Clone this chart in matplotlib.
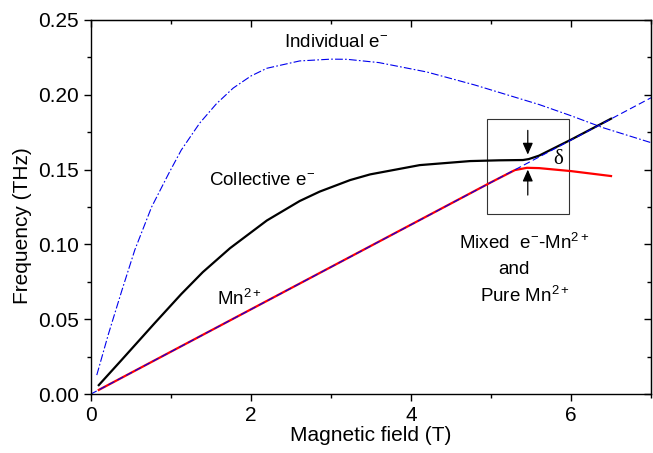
import numpy as np
import matplotlib
matplotlib.use("Agg")
import matplotlib.pyplot as plt
from matplotlib.patches import Rectangle
from matplotlib.ticker import MultipleLocator

plt.rcParams['font.family'] = ['Liberation Sans', 'DejaVu Sans']
plt.rcParams['mathtext.fontset'] = 'custom'
plt.rcParams['mathtext.rm'] = 'Liberation Sans'
plt.rcParams['mathtext.it'] = 'Liberation Sans:italic'
plt.rcParams['mathtext.default'] = 'regular'

# individual electron mode (blue dash-dot)
b_indiv = [0.075, 0.22, 0.39, 0.55, 0.76, 0.97, 1.13, 1.36, 1.57, 1.78, 2.0, 2.2,
           2.61, 3.0, 3.2, 3.6, 4.2, 4.8, 5.2, 5.6, 6.0, 6.4, 7.0]
f_indiv = [0.0127, 0.040, 0.0695, 0.0963, 0.125, 0.147, 0.163, 0.181, 0.194, 0.2045,
           0.2125, 0.2177, 0.2226, 0.2238, 0.2237, 0.2215, 0.2152, 0.2065, 0.200,
           0.1935, 0.186, 0.178, 0.168]

# collective electron mode (black)
b_coll = [0.10, 0.38, 0.80, 1.13, 1.40, 1.74, 2.2, 2.61, 2.86, 3.24, 3.49, 4.11,
          4.74, 5.1, 5.40, 5.47, 5.6, 6.0, 6.5]
f_coll = [0.006, 0.0225, 0.0475, 0.0668, 0.0815, 0.0975, 0.1160, 0.1290, 0.1353,
          0.1430, 0.1468, 0.1530, 0.1557, 0.1562, 0.1564, 0.1570, 0.1593, 0.170, 0.184]

# Mn2+ mode (red)
b_mn = [0.1, 1.0, 2.0, 3.0, 4.0, 5.0, 5.3, 5.45, 5.6, 6.0, 6.5]
f_mn = [0.0028, 0.0283, 0.0566, 0.0849, 0.1132, 0.1415, 0.1497, 0.1512, 0.1510, 0.1490, 0.1457]

# pure Mn2+ line (blue dashed)
b_pure = [0.0, 7.0]
f_pure = [0.0, 0.198]

fig = plt.figure(figsize=(6.53, 4.53), dpi=100)
ax = fig.add_axes([0.139, 0.130, 0.858, 0.826])

ax.plot(b_indiv, f_indiv, color='#0000ee', lw=0.8, dashes=(7, 2, 1.5, 2))
ax.plot(b_coll, f_coll, color='black', lw=1.6)
ax.plot(b_mn, f_mn, color='#ff0000', lw=1.6)
ax.plot(b_pure, f_pure, color='#0000ee', lw=0.8, dashes=(6, 3))

# zoom box and splitting arrows
ax.add_patch(Rectangle((4.95, 0.1201), 1.02, 0.0634, fill=False, lw=0.8, ec='#333333'))
arrow = dict(arrowstyle='-|>,head_length=0.5,head_width=0.22', color='black',
             lw=0.9, mutation_scale=14, shrinkA=0, shrinkB=0)
ax.annotate('', xy=(5.46, 0.1600), xytext=(5.46, 0.1762), arrowprops=arrow)
ax.annotate('', xy=(5.46, 0.1500), xytext=(5.46, 0.1330), arrowprops=arrow)
ax.text(5.84, 0.1565, r'δ', family='Liberation Serif', fontsize=15, ha='center', va='center')

fs = 13.5
ax.text(3.06, 0.2346, r'Individual e$^{-}$', fontsize=fs, ha='center', va='center')
ax.text(2.14, 0.1424, r'Collective e$^{-}$', fontsize=fs, ha='center', va='center')
ax.text(1.86, 0.0635, r'Mn$^{2+}$', fontsize=fs, ha='center', va='center')
ax.text(5.41, 0.1010, r'Mixed  e$^{-}$-Mn$^{2+}$', fontsize=fs, ha='center', va='center')
ax.text(5.29, 0.0830, 'and', fontsize=fs, ha='center', va='center')
ax.text(5.42, 0.0655, r'Pure Mn$^{2+}$', fontsize=fs, ha='center', va='center')

ax.set_xlim(0, 7)
ax.set_ylim(0, 0.25)
ax.xaxis.set_major_locator(MultipleLocator(2))
ax.xaxis.set_minor_locator(MultipleLocator(1))
ax.yaxis.set_major_locator(MultipleLocator(0.05))
ax.yaxis.set_minor_locator(MultipleLocator(0.025))
ax.yaxis.set_major_formatter(plt.FormatStrFormatter('%.2f'))
ax.tick_params(which='both', direction='out', labelsize=15, width=1.0)
ax.tick_params(which='major', length=5)
ax.tick_params(which='minor', length=3)
for s in ax.spines.values():
    s.set_linewidth(1.0)

# mirrored ticks pointing inward on top and right
top = ax.secondary_xaxis('top')
top.xaxis.set_major_locator(MultipleLocator(2))
top.xaxis.set_minor_locator(MultipleLocator(1))
top.tick_params(which='both', direction='in', labeltop=False, width=1.0)
top.tick_params(which='major', length=5)
top.tick_params(which='minor', length=3)
right = ax.secondary_yaxis('right')
right.yaxis.set_major_locator(MultipleLocator(0.05))
right.yaxis.set_minor_locator(MultipleLocator(0.025))
right.tick_params(which='both', direction='in', labelright=False, width=1.0)
right.tick_params(which='major', length=5)
right.tick_params(which='minor', length=3)

ax.set_xlabel('Magnetic field (T)', fontsize=15, labelpad=1)
ax.set_ylabel('Frequency (THz)', fontsize=15)
ax.yaxis.set_label_coords(-0.104, 0.45)

fig.savefig('out.png', dpi=100)
